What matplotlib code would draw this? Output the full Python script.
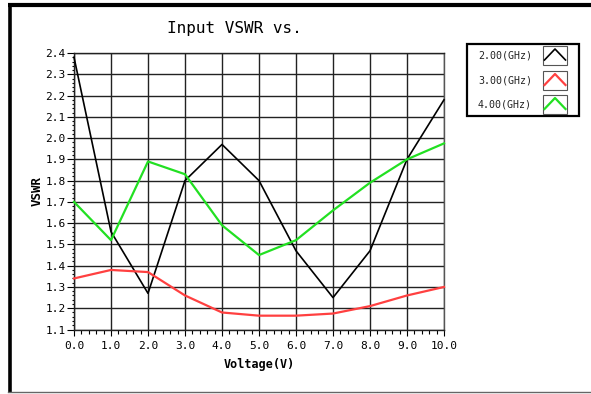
import matplotlib
matplotlib.use("Agg")
import matplotlib.pyplot as plt
from matplotlib.ticker import MultipleLocator, FormatStrFormatter

plt.rcParams['font.family'] = ['DejaVu Sans Mono']

voltage = [0, 1, 2, 3, 4, 5, 6, 7, 8, 9, 10]
vswr_2ghz = [2.38, 1.56, 1.27, 1.80, 1.97, 1.80, 1.47, 1.25, 1.47, 1.90, 2.18]
vswr_3ghz = [1.34, 1.38, 1.37, 1.26, 1.18, 1.165, 1.165, 1.175, 1.21, 1.26, 1.30]
vswr_4ghz = [1.70, 1.52, 1.89, 1.83, 1.59, 1.45, 1.52, 1.66, 1.79, 1.90, 1.975]
series_labels = ["2.00(GHz)", "3.00(GHz)", "4.00(GHz)"]
series_colors = ["#000000", "#ff4040", "#22e022"]
series_widths = [1.2, 1.6, 1.6]

W, H = 591, 394
fig = plt.figure(figsize=(W / 100, H / 100), dpi=100)
fig.patch.set_facecolor("white")

ax = fig.add_axes([74 / W, 1 - 329.5 / H, (444 - 74) / W, (329.5 - 53) / H])
for vals, c, lw in zip([vswr_2ghz, vswr_3ghz, vswr_4ghz], series_colors, series_widths):
    ax.plot(voltage, vals, color=c, lw=lw, zorder=3, clip_on=False)

ax.set_xlim(0, 10)
ax.set_ylim(1.1, 2.4)
ax.xaxis.set_major_locator(MultipleLocator(1))
ax.xaxis.set_minor_locator(MultipleLocator(0.2))
ax.yaxis.set_major_locator(MultipleLocator(0.1))
ax.yaxis.set_minor_locator(MultipleLocator(0.02))
ax.xaxis.set_major_formatter(FormatStrFormatter('%.1f'))
ax.yaxis.set_major_formatter(FormatStrFormatter('%.1f'))
ax.grid(True, which='major', color='#222222', lw=1.0, zorder=1)
ax.tick_params(axis='x', which='major', direction='out', length=4.5, width=0.8, pad=4, labelsize=8)
ax.tick_params(axis='x', which='minor', direction='out', length=3, width=0.8)
ax.tick_params(axis='y', which='major', direction='out', length=5, width=0.8, pad=1, labelsize=8)
ax.tick_params(axis='y', which='minor', direction='out', length=1.5, width=0.8)
for s in ax.spines.values():
    s.set_color('#222222')
    s.set_linewidth(1.0)
ax.spines['right'].set_color('#555555')

ax.set_xlabel("Voltage(V)", fontsize=8.5, fontweight='bold', labelpad=5)
ax.set_ylabel("VSWR", fontsize=9, fontweight='bold', labelpad=1)

fig.text(234 / W, 1 - 28 / H, "Input VSWR vs.", fontsize=11.5, ha='center', va='center')

# overlay axes in pixel coordinates for frame and legend
ov = fig.add_axes([0, 0, 1, 1], zorder=5)
ov.set_xlim(0, W)
ov.set_ylim(H, 0)
ov.axis('off')
ov.patch.set_alpha(0)
ov.plot([8, W], [5.3, 5.3], color='black', lw=3.0, solid_capstyle='butt')
ov.plot([10, 10], [3.5, 392], color='black', lw=2.6, solid_capstyle='butt')
ov.plot([8, W], [392, 392], color='#666666', lw=1.0)

# legend
ov.add_patch(plt.Rectangle((467, 44), 112, 72, fill=False, ec='black', lw=1.6))
row_y = [55, 80, 104]
for lab, c, lw, yy in zip(series_labels, series_colors, series_widths, row_y):
    ov.text(478, yy, lab, fontsize=7.2, ha='left', va='center', color='#222222')
    ov.add_patch(plt.Rectangle((543, yy - 9.5), 24, 19, fill=False, ec='#555555', lw=0.8))
    ov.plot([544.5, 555, 565.5], [yy + 5, yy - 6, yy + 5], color=c, lw=lw)

fig.savefig("out.png", dpi=100)
